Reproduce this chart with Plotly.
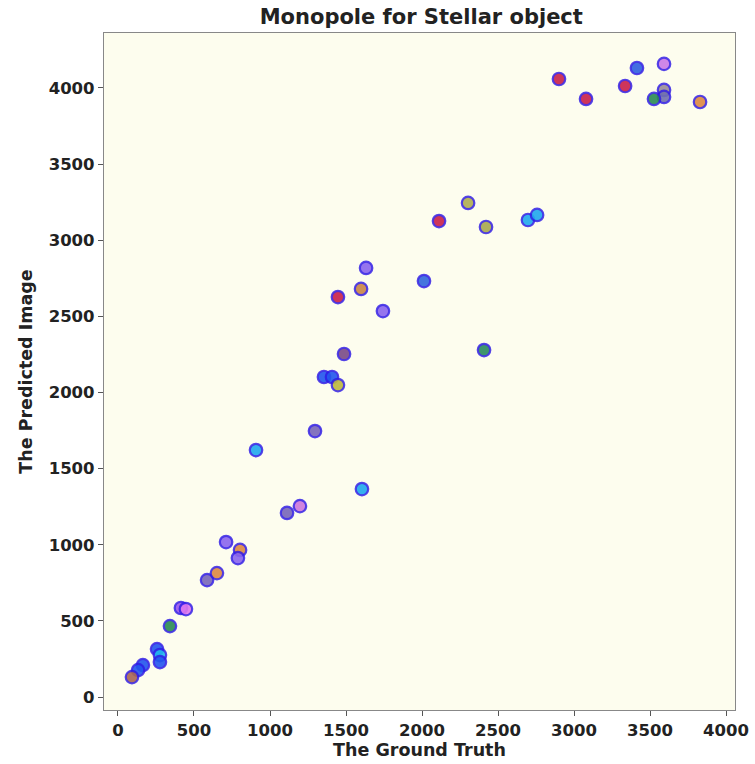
import plotly.graph_objects as go

# Ground-truth vs predicted values for the monopole estimate
ground_truth = [
    2901, 3079, 3336, 3414, 3592, 3592, 3592, 3526, 3829,
    2303, 2112, 2421, 2697, 2757, 1632, 1599, 1447, 2013, 1743,
    1487, 2408, 1355, 1408, 1447, 1296, 908, 1605, 1112, 1197,
    711, 803, 789, 586, 651, 414, 447, 342, 257, 276, 276, 164, 132, 92,
]
predicted = [
    4059, 3928, 4013, 4131, 4158, 3987, 3941, 3928, 3908,
    3245, 3126, 3087, 3133, 3166, 2818, 2680, 2627, 2732, 2535,
    2253, 2279, 2102, 2102, 2049, 1747, 1622, 1366, 1209, 1254,
    1018, 966, 913, 768, 814, 585, 578, 466, 315, 276, 230, 210, 177, 131,
]
point_colors = [
    "#c8204a", "#c8204a", "#c8204a", "#2f5fe0", "#c97be8", "#9a8c98", "#7070b0", "#2a8a55", "#dd8844",
    "#b0ae50", "#c8204a", "#a8a850", "#20a8ee", "#20a8ee", "#8a66ee", "#c88448", "#c8204a", "#3366dd", "#8a66ee",
    "#7a4a88", "#2a8a60", "#2255ee", "#2255ee", "#bcb840", "#7766bb", "#20a8ee", "#20a8ee", "#7766bb", "#cc77dd",
    "#8a66ee", "#dd8844", "#8a66ee", "#7766bb", "#dd8844", "#9955ee", "#dd77ee", "#2a8a55", "#2255ee", "#20b8ee",
    "#2255ee", "#2255ee", "#2255ee", "#a86655",
]

x_ticks = [0, 500, 1000, 1500, 2000, 2500, 3000, 3500, 4000]
y_ticks = [0, 500, 1000, 1500, 2000, 2500, 3000, 3500, 4000]

font_family = "DejaVu Sans"
text_color = "#222222"

fig = go.Figure(
    go.Scatter(
        x=ground_truth,
        y=predicted,
        mode="markers",
        marker=dict(
            size=12.5,
            color=point_colors,
            opacity=0.9,
            line=dict(color="rgba(45,25,230,0.9)", width=2.2),
        ),
        showlegend=False,
    )
)

axis_common = dict(
    showgrid=False,
    zeroline=False,
    showline=True,
    linecolor="#888888",
    linewidth=1.2,
    mirror=True,
    ticks="outside",
    ticklen=5,
    tickcolor="#555555",
    automargin=False,
    tickfont=dict(family=font_family, size=16.5, color=text_color, weight="bold"),
)

fig.update_layout(
    width=755,
    height=764,
    margin=dict(l=104, r=20, t=33, b=54, autoexpand=False),
    paper_bgcolor="white",
    plot_bgcolor="#fdfdee",
    title=dict(
        text="Monopole for Stellar object",
        x=0.558,
        xanchor="center",
        y=0.978,
        yanchor="middle",
        font=dict(family=font_family, size=21, color=text_color, weight="bold"),
    ),
    xaxis=dict(
        range=[-92, 4059],
        tickvals=x_ticks,
        title=dict(
            text="The Ground Truth",
            standoff=4,
            font=dict(family=font_family, size=17.5, color=text_color, weight="bold"),
        ),
        **axis_common,
    ),
    yaxis=dict(
        range=[-85, 4361],
        tickvals=y_ticks,
        title=dict(
            text="The Predicted Image",
            standoff=11,
            font=dict(family=font_family, size=17.5, color=text_color, weight="bold"),
        ),
        **axis_common,
    ),
)

fig.write_html("out.html")
